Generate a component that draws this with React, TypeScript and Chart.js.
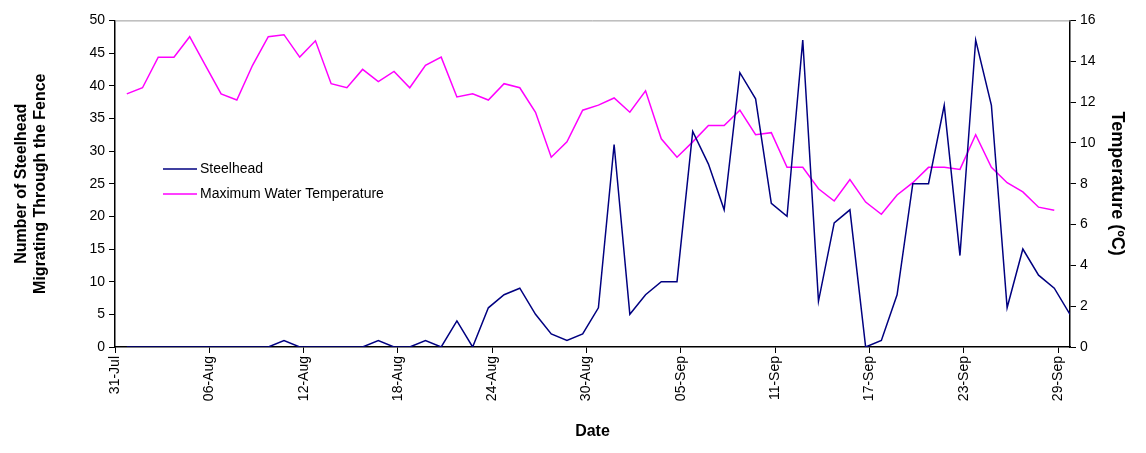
import React, { useEffect, useRef } from "react";
import { Chart, registerables } from "chart.js";
Chart.register(...registerables);

const tickLabels = ["31-Jul", "06-Aug", "12-Aug", "18-Aug", "24-Aug", "30-Aug", "05-Sep", "11-Sep", "17-Sep", "23-Sep", "29-Sep"];
const steelhead = [0, 0, 0, 0, 0, 0, 0, 0, 0, 0, 1, 0, 0, 0, 0, 0, 1, 0, 0, 1, 0, 4, 0, 6, 8, 9, 5, 2, 1, 2,
  6, 31, 5, 8, 10, 10, 33, 28, 21, 42, 38, 22, 20, 47, 7, 19, 21, 0, 1, 8, 25, 25, 37, 14, 47, 37, 6, 15, 11, 9, 5];
const maxTemp = [12.4, 12.7, 14.2, 14.2, 15.2, 13.8, 12.4, 12.1, 13.8, 15.2, 15.3, 14.2, 15.0, 12.9, 12.7, 13.6, 13.0, 13.5, 12.7, 13.8,
  14.2, 12.25, 12.4, 12.1, 12.9, 12.7, 11.5, 9.3, 10.05, 11.6, 11.85, 12.2, 11.5, 12.55, 10.2, 9.3, 10.05, 10.85, 10.85, 11.6,
  10.4, 10.5, 8.8, 8.8, 7.75, 7.15, 8.2, 7.1, 6.5, 7.45, 8.05, 8.8, 8.8, 8.7, 10.4, 8.8, 8.05, 7.6, 6.85, 6.7];

const FONT = "'Liberation Sans', Arial, sans-serif";

export default function App() {
  const ref = useRef<HTMLCanvasElement>(null);
  useEffect(() => {
    const legendPlugin = {
      id: "customLegend",
      afterDraw(chart: any) {
        const c = chart.ctx;
        const items = [["Steelhead", "#000080"], ["Maximum Water Temperature", "#FF00FF"]];
        c.save();
        c.font = `14px ${FONT}`;
        c.textBaseline = "middle";
        items.forEach(([t, col], i) => {
          const y = 161 + i * 25;
          c.strokeStyle = col; c.lineWidth = 1.5;
          c.beginPath(); c.moveTo(155, y); c.lineTo(189, y); c.stroke();
          c.fillStyle = "#000"; c.fillText(t, 192, y);
        });
        const a = chart.chartArea;
        c.strokeStyle = "#999"; c.lineWidth = 1;
        c.beginPath(); c.moveTo(a.left, a.top + 0.5); c.lineTo(a.right, a.top + 0.5); c.stroke();
        c.restore();
      },
    };
    const chart = new Chart(ref.current!, {
      type: "line",
      data: {
        datasets: [
          { label: "Steelhead", data: steelhead.map((v, i) => ({ x: i + 0.75, y: v })), borderColor: "#000080", borderWidth: 1.5, pointRadius: 0, yAxisID: "y", tension: 0 },
          { label: "Maximum Water Temperature", data: maxTemp.map((v, i) => ({ x: i + 0.75, y: v })), borderColor: "#FF00FF", borderWidth: 1.5, pointRadius: 0, yAxisID: "y1", tension: 0 },
        ],
      },
      options: {
        animation: false,
        responsive: false,
        layout: { padding: { top: 8 } },
        plugins: { legend: { display: false }, tooltip: { enabled: false } },
        scales: {
          x: {
            type: "linear", min: 0, max: 60.75,
            afterBuildTicks: (s: any) => { s.ticks = tickLabels.map((_, i) => ({ value: i * 6 })); },
            afterFit: (s: any) => { s.height = 98; },
            ticks: { color: "#000", font: { size: 14, family: FONT }, maxRotation: 90, minRotation: 90, autoSkip: false, padding: 3,
              callback: (v: any) => tickLabels[Math.round(Number(v) / 6)] },
            grid: { drawOnChartArea: false, color: "#000", tickLength: 6 },
            border: { color: "#000", width: 1.5 },
            title: { display: true, text: "Date", color: "#000", font: { size: 16, weight: "bold", family: FONT }, padding: { top: 14 } },
          },
          y: {
            position: "left", min: 0, max: 50,
            afterFit: (s: any) => { s.width = 107; },
            ticks: { stepSize: 5, color: "#000", font: { size: 14, family: FONT }, padding: 4 },
            grid: { drawOnChartArea: false, color: "#000", tickLength: 6 },
            border: { color: "#000", width: 1.5 },
            title: { display: true, text: ["Number of Steelhead", "Migrating Through the Fence"], color: "#000", font: { size: 16, weight: "bold", family: FONT }, padding: { bottom: 8 } },
          },
          y1: {
            position: "right", min: 0, max: 16,
            afterFit: (s: any) => { s.width = 68; },
            ticks: { stepSize: 2, color: "#000", font: { size: 14, family: FONT }, padding: 4 },
            grid: { drawOnChartArea: false, color: "#000", tickLength: 6 },
            border: { color: "#000", width: 1.5 },
            title: { display: true, text: "Temperature (ºC)", color: "#000", font: { size: 18, weight: "bold", family: FONT }, padding: { top: 10 } },
          },
        },
      } as any,
      plugins: [legendPlugin],
    });
    return () => chart.destroy();
  }, []);
  return <canvas ref={ref} width={1130} height={437} style={{ display: "block" }} />;
}
